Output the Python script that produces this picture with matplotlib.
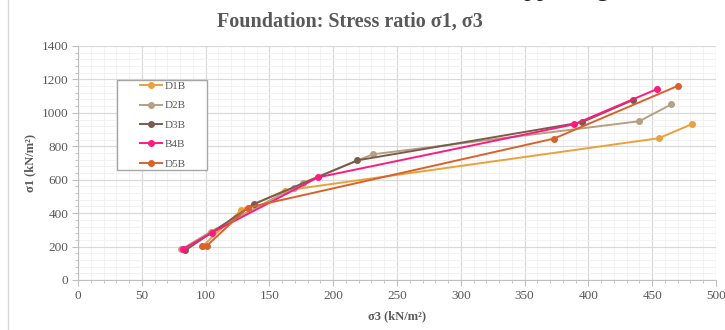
import matplotlib.pyplot as plt
from matplotlib.patches import Rectangle
from matplotlib.ticker import MultipleLocator

plt.rcParams["font.family"] = ["Liberation Serif", "DejaVu Serif"]

names = ["D1B", "D2B", "D3B", "B4B", "D5B"]
colors = ["#E9A23B", "#B5A082", "#7A5C4E", "#FF1A7F", "#D9622B"]

d1b_s3 = [98, 128, 162, 455, 481]
d1b_s1 = [205, 420, 535, 848, 932]
d2b_s3 = [81, 104, 169, 176, 231, 440, 465]
d2b_s1 = [183, 289, 552, 580, 752, 950, 1051]
d3b_s3 = [84, 138, 219, 395, 435]
d3b_s1 = [177, 455, 716, 944, 1077]
b4b_s3 = [82, 105, 188, 389, 454]
b4b_s1 = [184, 283, 614, 932, 1143]
d5b_s3 = [97, 101, 133, 373, 470]
d5b_s1 = [205, 205, 433, 846, 1161]

series_s3 = [d1b_s3, d2b_s3, d3b_s3, b4b_s3, d5b_s3]
series_s1 = [d1b_s1, d2b_s1, d3b_s1, b4b_s1, d5b_s1]

W, H = 725, 330
fig = plt.figure(figsize=(W / 100, H / 100), dpi=100)
ax = fig.add_axes([78 / W, 50 / H, 638 / W, 234 / H])

for name, c, xs, ys in zip(names, colors, series_s3, series_s1):
    ax.plot(xs, ys, color=c, linewidth=1.4, marker="o", markersize=4, label=name)

ax.set_xlim(0, 500)
ax.set_ylim(0, 1400)
ax.xaxis.set_major_locator(MultipleLocator(50))
ax.xaxis.set_minor_locator(MultipleLocator(10))
ax.yaxis.set_major_locator(MultipleLocator(200))
ax.yaxis.set_minor_locator(MultipleLocator(40))
ax.grid(which="major", color="#D9D9D9", linewidth=0.9)
ax.grid(which="minor", color="#F0F0F0", linewidth=0.6)
ax.set_axisbelow(True)

for s in ["top", "right"]:
    ax.spines[s].set_visible(False)
for s in ["left", "bottom"]:
    ax.spines[s].set_color("#BFBFBF")
ax.tick_params(which="both", colors="#BFBFBF", labelcolor="#595959", labelsize=9.5)
ax.tick_params(which="major", length=4, pad=3)
ax.tick_params(which="minor", length=2)

ax.set_xlabel("σ3 (kN/m²)", fontsize=9, fontweight="bold", color="#595959", labelpad=6)
ax.set_ylabel("σ1 (kN/m²)", fontsize=9, fontweight="bold", color="#595959")
fig.text(350 / W, 1 - 22 / H, "Foundation: Stress ratio σ1, σ3", fontsize=14.5,
         fontweight="bold", color="#595959", ha="center", va="center")

# legend box drawn by hand so its padding matches
ax.add_patch(Rectangle((117 / W, 1 - 170 / H), 90 / W, 90 / H, transform=fig.transFigure,
                       facecolor="white", edgecolor="#A6A6A6", linewidth=1.0,
                       zorder=4, clip_on=False))
leg = ax.legend(loc="center", bbox_to_anchor=(163 / W, 1 - 125 / H),
                bbox_transform=fig.transFigure, fontsize=8, frameon=False,
                labelspacing=0.87, handlelength=2.0, handletextpad=0.25,
                borderpad=0, labelcolor="#595959")
leg.set_zorder(5)

# chart frame edge and clipped page text
fig.add_artist(plt.Line2D([8 / W, 8 / W], [0, 1], color="#D9D9D9", linewidth=1))
fig.text(498 / W, 1 + 4 / H, "Supporting", fontsize=18, color="#222222", va="baseline")

plt.savefig("out.png", dpi=100)
